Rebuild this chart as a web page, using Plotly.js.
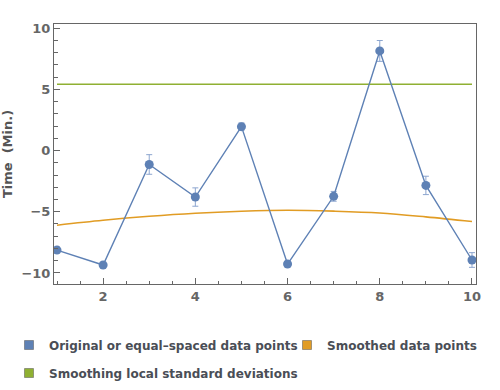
<!DOCTYPE html>
<html><head><meta charset="utf-8">
<script src="https://cdn.plot.ly/plotly-3.0.1.min.js"></script>
<style>html,body{margin:0;padding:0;background:#fff}#chart{width:500px;height:390px}</style>
</head><body><div id="chart"></div>
<script>
var xs = [1,2,3,4,5,6,7,8,9,10];
var original = [-8.13,-9.35,-1.14,-3.8,1.95,-9.27,-3.74,8.13,-2.85,-8.94];
var errors = [0.25,0.1,0.8,0.75,0.3,0.1,0.4,0.85,0.75,0.6];
var smoothed = [-6.1,-5.7,-5.37,-5.12,-4.96,-4.88,-4.95,-5.1,-5.42,-5.8];
var localSD = [5.41,5.41,5.41,5.41,5.41,5.41,5.41,5.41,5.41,5.41];
var names = ['Original or equal\u2013spaced data points','Smoothed data points','Smoothing local standard deviations'];
var colors = ['#5E81B5','#E19C24','#8FB032'];
var legendIds = ['legend','legend2','legend3'];

var traces = [
  {x: xs, y: localSD, mode:'lines', line:{color:colors[2], width:1.6}, showlegend:false, hoverinfo:'skip'},
  {x: xs, y: smoothed, mode:'lines', line:{color:colors[1], width:1.6, shape:'spline'}, showlegend:false},
  {x: xs, y: original, mode:'lines+markers', line:{color:colors[0], width:1.4},
   marker:{color:colors[0], size:9}, showlegend:false,
   error_y:{type:'data', array: errors, visible:true, color:'#8CA5CF', thickness:1, width:3}}
];
for (var i=0;i<3;i++){
  traces.push({x:[null], y:[null], mode:'markers', name:names[i], legend:legendIds[i],
    marker:{symbol:'square', size:9, color:colors[i], line:{color:'#555', width:0.5}}});
}

var axisCommon = {showline:true, linecolor:'#666', linewidth:1, mirror:true, showgrid:false, zeroline:false,
  ticks:'inside', tickcolor:'#666', ticklen:6, tickwidth:1,
  tickfont:{family:'DejaVu Sans', size:13, color:'#666', weight:'bold'}};
var legendFont = {family:'DejaVu Sans', size:12, color:'#4a4e56', weight:'bold'};
function leg(xpx, ypx){
  return {orientation:'h', xref:'container', yref:'container', x:xpx/500, xanchor:'left',
    y:1-ypx/390, yanchor:'middle', font:legendFont, itemwidth:30, bgcolor:'rgba(0,0,0,0)'};
}

var layout = {
  width:500, height:390,
  margin:{l:54, r:24, t:24, b:106, autoexpand:false},
  paper_bgcolor:'#fff', plot_bgcolor:'#fff',
  xaxis: Object.assign({}, axisCommon, {range:[0.935,10.087], tick0:0, dtick:2,
     minor:{dtick:0.5, ticks:'inside', ticklen:3.5, tickcolor:'#666', showgrid:false}}),
  yaxis: Object.assign({}, axisCommon, {range:[-10.9,10.33], tick0:0, dtick:5,
     minor:{dtick:1, ticks:'inside', ticklen:3.5, tickcolor:'#666', showgrid:false},
     title:{text:'Time  (Min.)', standoff:6, font:{family:'DejaVu Sans', size:13, color:'#555', weight:'bold'}}}),
  legend: leg(9, 345),
  legend2: leg(287, 345),
  legend3: leg(9, 373),
  showlegend:true
};
Plotly.newPlot('chart', traces, layout, {displayModeBar:false, staticPlot:true});
</script></body></html>
